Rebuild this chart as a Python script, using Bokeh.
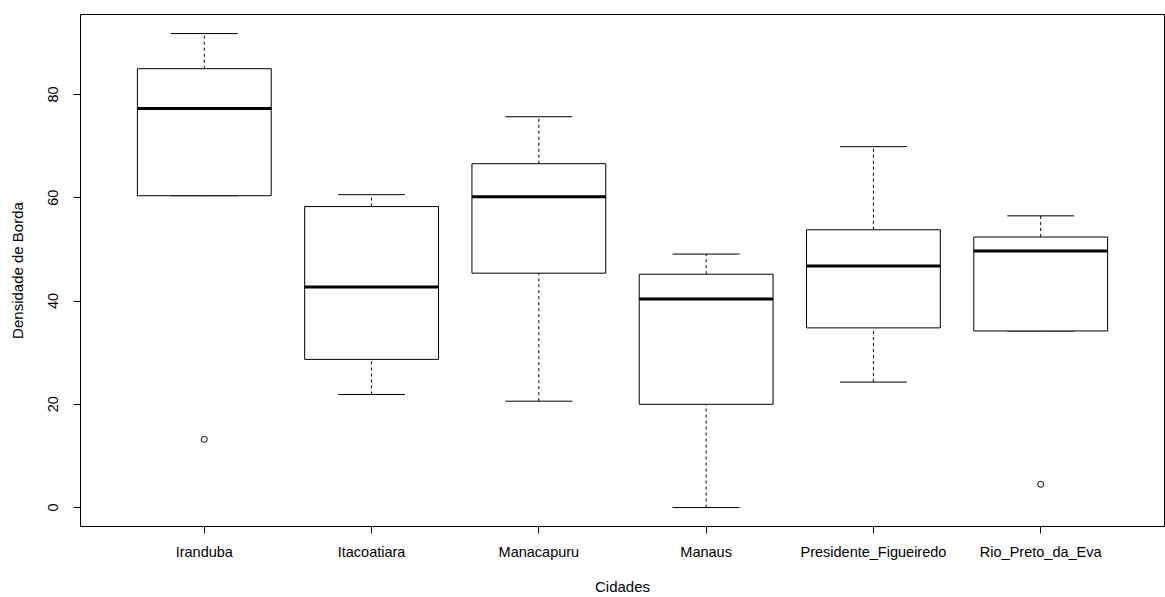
import numpy as np
from bokeh.plotting import figure
from bokeh.models import Range1d, FixedTicker, ColumnDataSource
from bokeh.embed import file_html
from bokeh.resources import INLINE

cities = ["Iranduba", "Itacoatiara", "Manacapuru", "Manaus",
          "Presidente_Figueiredo", "Rio_Preto_da_Eva"]
lower = [60.4, 21.9, 20.6, 0.0, 24.3, 34.2]
q1 = [60.4, 28.7, 45.4, 20.0, 34.8, 34.2]
median = [77.3, 42.7, 60.2, 40.4, 46.8, 49.7]
q3 = [85.0, 58.3, 66.6, 45.2, 53.8, 52.4]
upper = [91.8, 60.6, 75.7, 49.1, 69.9, 56.5]
outlier_city = ["Iranduba", "Rio_Preto_da_Eva"]
outlier_value = [13.2, 4.5]
y_ticks = [0, 20, 40, 60, 80]

x = np.arange(1, len(cities) + 1, dtype=float)
half_box = 0.4
half_cap = 0.2

src = ColumnDataSource(dict(
    x=x, lower=lower, q1=q1, median=median, q3=q3, upper=upper,
    bl=x - half_box, br=x + half_box, cl=x - half_cap, cr=x + half_cap,
))
ox = [cities.index(c) + 1 for c in outlier_city]

FONT = "Liberation Sans"
p = figure(width=1165, height=597, output_backend="svg", toolbar_location=None,
           x_range=Range1d(0.26, 6.74), y_range=Range1d(-3.67, 95.5),
           min_border_left=80, min_border_right=1, min_border_top=14,
           min_border_bottom=71)
p.xgrid.visible = False
p.ygrid.visible = False
p.outline_line_color = "black"
p.outline_line_width = 1
p.outline_line_alpha = 1

# whiskers
p.segment(x0="x", y0="q3", x1="x", y1="upper", source=src, line_color="black",
          line_width=1, line_dash="3 3")
p.segment(x0="x", y0="lower", x1="x", y1="q1", source=src, line_color="black",
          line_width=1, line_dash="3 3")
# caps
p.segment(x0="cl", y0="upper", x1="cr", y1="upper", source=src, line_color="black", line_width=1)
p.segment(x0="cl", y0="lower", x1="cr", y1="lower", source=src, line_color="black", line_width=1)
# boxes
p.quad(left="bl", right="br", bottom="q1", top="q3", source=src,
       fill_color="white", line_color="black", line_width=1)
# medians
p.segment(x0="bl", y0="median", x1="br", y1="median", source=src,
          line_color="black", line_width=3)
# outliers
p.scatter(ox, outlier_value, marker="circle", size=6, fill_color=None,
          line_color="black", line_width=1)

for ax in (p.xaxis[0], p.yaxis[0]):
    ax.axis_line_color = None
    ax.major_tick_line_color = "black"
    ax.major_tick_out = 7
    ax.major_tick_in = 0
    ax.minor_tick_line_color = None
    ax.major_label_text_font = FONT
    ax.major_label_text_font_size = "14.5px"
    ax.major_label_text_color = "black"
    ax.axis_label_text_font = FONT
    ax.axis_label_text_font_size = "15px"
    ax.axis_label_text_font_style = "normal"
    ax.axis_label_text_color = "black"

p.xaxis.ticker = FixedTicker(ticks=list(x))
p.xaxis.major_label_overrides = {float(v): c for v, c in zip(x, cities)}
p.xaxis.major_label_standoff = 10
p.xaxis.axis_label = "Cidades"
p.xaxis.axis_label_standoff = 15

p.yaxis.ticker = FixedTicker(ticks=y_ticks)
p.yaxis.major_label_orientation = "vertical"
p.yaxis.major_label_standoff = 15
p.yaxis.axis_label = "Densidade de Borda"
p.yaxis.axis_label_standoff = 20

open("out.html", "w").write(file_html(p, INLINE))
